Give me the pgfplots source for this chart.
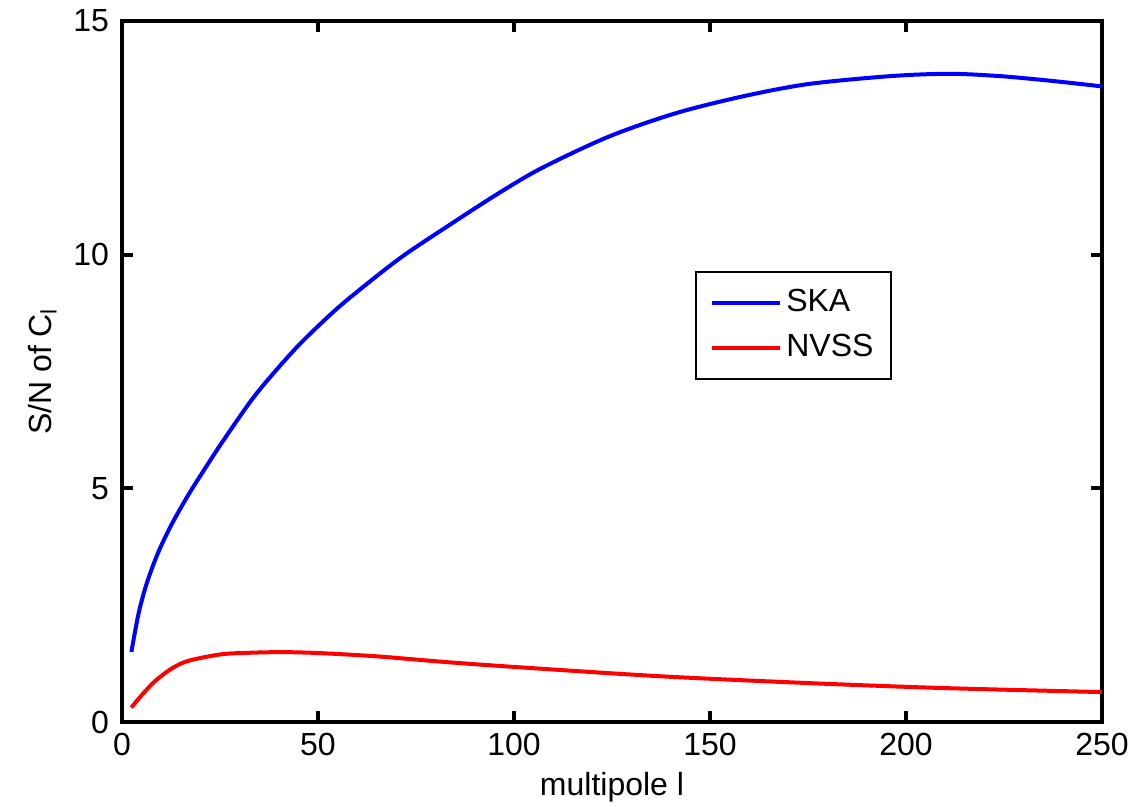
\documentclass[border=0pt]{standalone}
\usepackage{fontspec}
\setmainfont{Liberation Sans}
\usepackage{pgfplots}
\pgfplotsset{compat=1.18}
\begin{document}
\fontsize{16pt}{19pt}\selectfont
\begin{tikzpicture}
\path[use as bounding box] (-61pt,-42.5pt) rectangle (507pt,361pt);
\begin{axis}[
  at={(0,0)}, anchor=south west,
  scale only axis,
  width=490pt, height=350.5pt,
  xmin=0, xmax=250, ymin=0, ymax=15,
  xtick={0,50,100,150,200,250},
  ytick={0,5,10,15},
  tick align=inside,
  major tick length=5.5pt,
  axis line style={line width=2pt},
  every tick/.style={black, line width=2pt},
  tick label style={font=\fontsize{16pt}{19pt}\selectfont},
  /pgf/number format/assume math mode=true,
  xticklabel style={yshift=0pt},
  yticklabel style={xshift=-1pt},
  xlabel={multipole l},
  ylabel={S/N of C\textsubscript{l}},
  label style={font=\fontsize{16pt}{19pt}\selectfont},
  xlabel style={yshift=2.5pt},
  ylabel style={yshift=-2.5pt},
  legend style={at={(rel axis cs:0.585,0.643)}, anchor=north west,
    draw=black, line width=1pt, font=\fontsize{16pt}{19pt}\selectfont,
    inner xsep=7pt, inner ysep=6.5pt, row sep=5pt},
  legend cell align=left,
  legend image code/.code={\draw[#1, line width=2pt] (0cm,0cm) -- (34pt,0cm);},
]
\addplot[blue, line width=2pt, smooth] coordinates {
(2.4,1.50) (4.25,2.33) (6.4,2.99) (9.35,3.65) (12.8,4.25) (17,4.87) (21.3,5.44)
(25.5,5.98) (32.7,6.85) (37.8,7.38) (44.6,8.02) (51.4,8.58) (58,9.07)
(71,9.93) (84,10.66) (96,11.31) (107,11.85) (124,12.52)
(141,13.02) (158,13.38) (175,13.65) (196,13.82) (211,13.87) (224,13.82)
(237,13.72) (250,13.6)
};
\addlegendentry{SKA}
\addplot[red, line width=2pt, smooth] coordinates {
(2.4,0.31) (5.1,0.58) (8.5,0.88) (12.8,1.15) (17,1.31) (25.5,1.45) (34,1.485)
(40.8,1.495) (47,1.485) (53.9,1.46) (65.8,1.40) (83,1.28) (101.5,1.17)
(137,0.98) (173,0.84) (208,0.73) (250,0.64)
};
\addlegendentry{NVSS}
\end{axis}
\end{tikzpicture}
\end{document}
